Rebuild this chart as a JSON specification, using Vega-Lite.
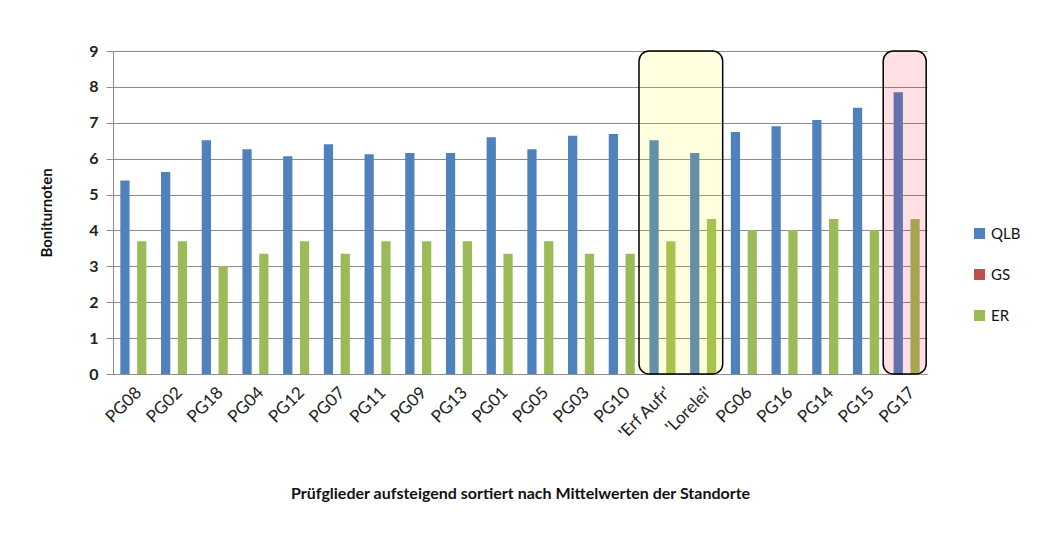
{
  "$schema": "https://vega.github.io/schema/vega-lite/v6.json",
  "width": 814,
  "height": 323,
  "autosize": "none",
  "padding": {"left": 113, "top": 51, "right": 117, "bottom": 161},
  "background": "white",
  "config": {
    "font": "Lato",
    "view": {"stroke": null},
    "axisY": {
      "titleFontSize": 15,
      "titleFontWeight": "bold",
      "titleColor": "#111",
      "titlePadding": 34,
      "labelOverlap": false,
      "labelFontSize": 16,
      "labelFontWeight": "bold",
      "labelColor": "#222",
      "labelPadding": 8,
      "tickSize": 7,
      "tickColor": "#8c8c8c",
      "domainColor": "#8c8c8c",
      "gridColor": "#8c8c8c",
      "gridOpacity": 1
    }
  },
  "datasets": {
    "bars": [
      {"pg": "PG08", "series": "QLB", "value": 5.39}, {"pg": "PG08", "series": "ER", "value": 3.70},
      {"pg": "PG02", "series": "QLB", "value": 5.63}, {"pg": "PG02", "series": "ER", "value": 3.70},
      {"pg": "PG18", "series": "QLB", "value": 6.51}, {"pg": "PG18", "series": "ER", "value": 3.01},
      {"pg": "PG04", "series": "QLB", "value": 6.26}, {"pg": "PG04", "series": "ER", "value": 3.35},
      {"pg": "PG12", "series": "QLB", "value": 6.07}, {"pg": "PG12", "series": "ER", "value": 3.70},
      {"pg": "PG07", "series": "QLB", "value": 6.40}, {"pg": "PG07", "series": "ER", "value": 3.35},
      {"pg": "PG11", "series": "QLB", "value": 6.12}, {"pg": "PG11", "series": "ER", "value": 3.70},
      {"pg": "PG09", "series": "QLB", "value": 6.16}, {"pg": "PG09", "series": "ER", "value": 3.70},
      {"pg": "PG13", "series": "QLB", "value": 6.16}, {"pg": "PG13", "series": "ER", "value": 3.70},
      {"pg": "PG01", "series": "QLB", "value": 6.60}, {"pg": "PG01", "series": "ER", "value": 3.35},
      {"pg": "PG05", "series": "QLB", "value": 6.26}, {"pg": "PG05", "series": "ER", "value": 3.70},
      {"pg": "PG03", "series": "QLB", "value": 6.64}, {"pg": "PG03", "series": "ER", "value": 3.35},
      {"pg": "PG10", "series": "QLB", "value": 6.69}, {"pg": "PG10", "series": "ER", "value": 3.35},
      {"pg": "'Erf Aufr'", "series": "QLB", "value": 6.51}, {"pg": "'Erf Aufr'", "series": "ER", "value": 3.70},
      {"pg": "'Lorelei'", "series": "QLB", "value": 6.16}, {"pg": "'Lorelei'", "series": "ER", "value": 4.32},
      {"pg": "PG06", "series": "QLB", "value": 6.74}, {"pg": "PG06", "series": "ER", "value": 4.01},
      {"pg": "PG16", "series": "QLB", "value": 6.90}, {"pg": "PG16", "series": "ER", "value": 4.01},
      {"pg": "PG14", "series": "QLB", "value": 7.08}, {"pg": "PG14", "series": "ER", "value": 4.32},
      {"pg": "PG15", "series": "QLB", "value": 7.42}, {"pg": "PG15", "series": "ER", "value": 4.01},
      {"pg": "PG17", "series": "QLB", "value": 7.85}, {"pg": "PG17", "series": "ER", "value": 4.32}
    ]
  },
  "layer": [
    {
      "data": {"name": "bars"},
      "mark": {"type": "bar"},
      "encoding": {
        "x": {
          "field": "pg",
          "type": "nominal",
          "sort": null,
          "scale": {
            "domain": ["PG08", "PG02", "PG18", "PG04", "PG12", "PG07", "PG11", "PG09", "PG13", "PG01", "PG05", "PG03", "PG10", "'Erf Aufr'", "'Lorelei'", "PG06", "PG16", "PG14", "PG15", "PG17"],
            "paddingInner": 0.36,
            "paddingOuter": 0.18
          },
          "axis": {
            "title": "Prüfglieder aufsteigend  sortiert nach Mittelwerten der Standorte",
            "titleFontSize": 16,
            "titleFontWeight": "bold",
            "titleColor": "#111",
            "titlePadding": 44,
            "labelAngle": -45,
            "labelFontSize": 17,
            "labelColor": "#222",
            "labelPadding": 10,
            "labelOverlap": false,
            "ticks": false,
            "domainColor": "#8c8c8c",
            "grid": false
          }
        },
        "xOffset": {
          "field": "series",
          "scale": {"domain": ["QLB", "ER"], "paddingInner": 0.45, "paddingOuter": 0}
        },
        "y": {
          "field": "value",
          "type": "quantitative",
          "scale": {"domain": [0, 9], "nice": false},
          "axis": {"title": "Boniturnoten", "values": [0, 1, 2, 3, 4, 5, 6, 7, 8, 9]}
        },
        "color": {
          "field": "series",
          "type": "nominal",
          "scale": {"domain": ["QLB", "GS", "ER"], "range": ["#4F81BD", "#C0504D", "#9BBB59"]},
          "legend": {
            "title": null,
            "orient": "none",
            "legendX": 859,
            "legendY": 175,
            "symbolType": "square",
            "symbolSize": 121,
            "symbolStrokeWidth": 0,
            "labelFontSize": 15,
            "labelColor": "#111",
            "rowPadding": 25
          }
        }
      }
    },
    {
      "data": {"values": [{"start": "'Erf Aufr'", "end": "'Lorelei'"}]},
      "mark": {"type": "rect", "cornerRadius": 10, "fill": "#ffff00", "fillOpacity": 0.12, "stroke": "#000", "strokeWidth": 1.5},
      "encoding": {
        "x": {"field": "start", "type": "nominal", "bandPosition": -0.4},
        "x2": {"field": "end", "bandPosition": 1.25}
      }
    },
    {
      "data": {"values": [{"start": "PG17", "end": "PG17"}]},
      "mark": {"type": "rect", "cornerRadius": 10, "fill": "#ff0022", "fillOpacity": 0.12, "stroke": "#000", "strokeWidth": 1.5},
      "encoding": {
        "x": {"field": "start", "type": "nominal", "bandPosition": -0.4},
        "x2": {"field": "end", "bandPosition": 1.25}
      }
    }
  ]
}
